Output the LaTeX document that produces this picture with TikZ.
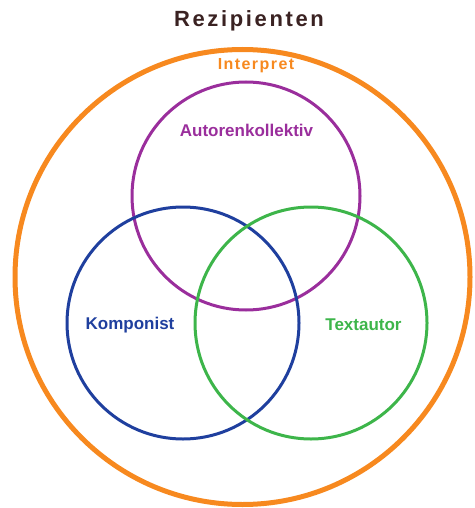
\documentclass[tikz,border=0pt]{standalone}
\usepackage{fontspec}
\setmainfont{Liberation Sans}
\definecolor{cOrange}{HTML}{F7891F}
\definecolor{cPurple}{HTML}{9A2E9C}
\definecolor{cBlue}{HTML}{1F3F9E}
\definecolor{cGreen}{HTML}{3DB54A}
\definecolor{cDark}{HTML}{3A2222}
\begin{document}
\begin{tikzpicture}[x=1pt,y=-1pt,
  ring/.style={circle,draw,inner sep=0pt,outer sep=0pt,line width=3pt},
  lbl/.style={inner sep=0pt,font=\fontsize{17}{20}\selectfont\bfseries}]
\useasboundingbox (0,0) rectangle (474,508);
\node[ring,draw=cOrange,line width=5pt,minimum size=455pt] (rez) at (242.5,277) {};
\node[ring,draw=cPurple,minimum size=228pt] (aut) at (246,196) {};
\node[ring,draw=cBlue,minimum size=232pt] (kom) at (183,323) {};
\node[ring,draw=cGreen,minimum size=232pt] (txt) at (311,323) {};
\node[inner sep=0pt,text=cDark,font=\fontsize{22}{26}\selectfont\bfseries\addfontfeature{LetterSpace=12}] (trez) at (249,21) {Rezipienten};
\node[inner sep=0pt,text=cOrange,font=\fontsize{16}{19}\selectfont\bfseries\addfontfeature{LetterSpace=9}] (tint) at (256,66) {Interpret};
\node[lbl,text=cPurple] (taut) at (246.5,130) {Autorenkollektiv};
\node[lbl,text=cBlue] (tkom) at (130,325) {Komponist};
\node[lbl,text=cGreen] (ttxt) at (363.5,325) {Textautor};
\end{tikzpicture}
\end{document}
